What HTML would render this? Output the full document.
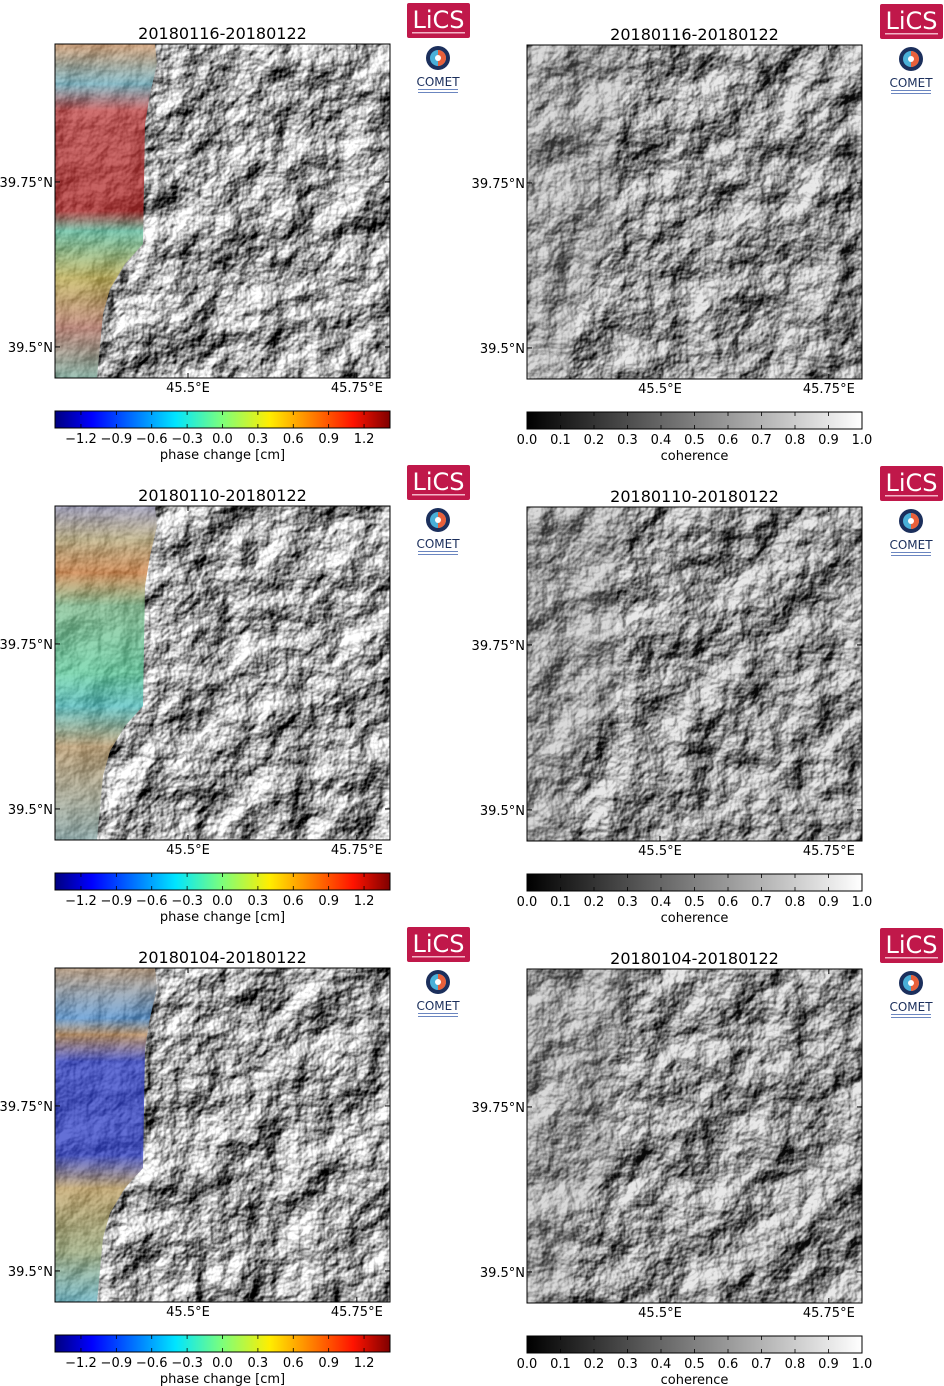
<!DOCTYPE html>
<html><head><meta charset="utf-8">
<style>
html,body{margin:0;padding:0;background:#fff;}
svg{display:block;font-family:"DejaVu Sans","Liberation Sans",sans-serif;}
</style></head>
<body>
<svg id="fig" width="944" height="1386" viewBox="0 0 944 1386" xmlns="http://www.w3.org/2000/svg">
<defs>
<filter id="hill" x="0" y="0" width="100%" height="100%" color-interpolation-filters="sRGB">
<feTurbulence type="fractalNoise" baseFrequency="0.02" numOctaves="5" seed="7" result="n"/>
<feDiffuseLighting in="n" surfaceScale="11" lighting-color="#ffffff" diffuseConstant="1.05" result="l">
<feDistantLight azimuth="225" elevation="38"/>
</feDiffuseLighting>
<feColorMatrix type="saturate" values="0"/>
<feComponentTransfer><feFuncR type="linear" slope="1.12" intercept="-0.06"/><feFuncG type="linear" slope="1.12" intercept="-0.06"/><feFuncB type="linear" slope="1.12" intercept="-0.06"/></feComponentTransfer>
</filter>
<linearGradient id="jet" x1="0" x2="1" y1="0" y2="0">
<stop offset="0" stop-color="#00007f"/><stop offset="0.11" stop-color="#0000ff"/>
<stop offset="0.36" stop-color="#00e5ff"/><stop offset="0.5" stop-color="#7dff7a"/>
<stop offset="0.64" stop-color="#ffee00"/><stop offset="0.89" stop-color="#ff1300"/>
<stop offset="1" stop-color="#7f0000"/>
</linearGradient>
<linearGradient id="gray" x1="0" x2="1" y1="0" y2="0">
<stop offset="0" stop-color="#000"/><stop offset="1" stop-color="#fff"/>
</linearGradient>
<linearGradient id="ov0" x1="0" x2="0" y1="0" y2="1">
<stop offset="0" stop-color="#d9a070"/><stop offset="0.12" stop-color="#70b0c0"/>
<stop offset="0.2" stop-color="#c04040"/><stop offset="0.5" stop-color="#b02828"/>
<stop offset="0.56" stop-color="#60c0a0"/><stop offset="0.7" stop-color="#c0b050"/>
<stop offset="0.85" stop-color="#c08070"/><stop offset="1" stop-color="#80b0a0"/>
</linearGradient>
<linearGradient id="ov1" x1="0" x2="0" y1="0" y2="1">
<stop offset="0" stop-color="#a0a0c0"/><stop offset="0.1" stop-color="#c0b080"/>
<stop offset="0.2" stop-color="#d08040"/><stop offset="0.3" stop-color="#80c090"/>
<stop offset="0.5" stop-color="#60d0a0"/><stop offset="0.6" stop-color="#50c0c0"/>
<stop offset="0.72" stop-color="#c0a070"/><stop offset="1" stop-color="#90b0b0"/>
</linearGradient>
<linearGradient id="ov2" x1="0" x2="0" y1="0" y2="1">
<stop offset="0" stop-color="#c0a080"/><stop offset="0.15" stop-color="#5090d0"/>
<stop offset="0.2" stop-color="#c09060"/><stop offset="0.28" stop-color="#3040c8"/>
<stop offset="0.56" stop-color="#3040c8"/><stop offset="0.66" stop-color="#c0a060"/>
<stop offset="0.85" stop-color="#a0b080"/><stop offset="1" stop-color="#60b0c0"/>
</linearGradient>
</defs>
</svg>
<script>
const titles = ["20180116-20180122","20180110-20180122","20180104-20180122"];
const phaseTicks = [-1.2,-0.9,-0.6,-0.3,0.0,0.3,0.6,0.9,1.2];
const phaseRange = [-1.42,1.42];
const cohTicks = [0.0,0.1,0.2,0.3,0.4,0.5,0.6,0.7,0.8,0.9,1.0];
const cohRange = [0,1];
const latTicks = ["39.75°N","39.5°N"];
const latFrac = [0.413,0.907];
const lonTicks = ["45.5°E","45.75°E"];
const lonFrac = [0.397,0.901];
const overlayPts = [[0,0],[100,0],[102,20],[95,50],[90,80],[88,200],[70,220],[55,245],[48,270],[42,334],[0,334]];

const S = "http://www.w3.org/2000/svg";
const fig = document.getElementById('fig');
function el(tag, attrs, parent){const e=document.createElementNS(S,tag);for(const k in attrs)e.setAttribute(k,attrs[k]);(parent||fig).appendChild(e);return e;}
function txt(x,y,s,size,anchor,parent){const t=el('text',{x:x,y:y,'font-size':size,'text-anchor':anchor||'middle',fill:'#000'},parent);t.textContent=s;return t;}

const W=335,H=334;
for(let r=0;r<3;r++){
  for(let c=0;c<2;c++){
    const mx = c===0?55:527, my = (c===0?44:45)+r*462;
    const g = el('g',{});
    
    
    const t = txt(mx+W/2, my-5, titles[r], 16, 'middle', g);
    
    
    const map = el('g',{},g);
    
    
    el('rect',{x:mx,y:my,width:W,height:H,fill:'#999'},map);
    el('rect',{x:mx,y:my,width:W,height:H,filter:'url(#hill)'},map);
    if(c===1) el('rect',{x:mx,y:my,width:W,height:H,fill:'#444',opacity:0.12},map);
    if(c===0){
      const p = el('polygon',{points:overlayPts.map(q=>(mx+q[0])+','+(my+q[1])).join(' '),fill:'url(#ov'+r+')',opacity:0.75},map);
      
      
    } else {
      el('polygon',{points:overlayPts.map(q=>(mx+q[0])+','+(my+q[1])).join(' '),fill:'#aaa',opacity:0.25},map);
    }
    el('rect',{x:mx,y:my,width:W,height:H,fill:'none',stroke:'#000','stroke-width':1},g);
    latTicks.forEach((s,i)=>{
      const y=my+latFrac[i]*H;
      el('line',{x1:mx,x2:mx+5,y1:y,y2:y,stroke:'#000'},g);
      el('line',{x1:mx+W,x2:mx+W-5,y1:y,y2:y,stroke:'#000'},g);
      const lt=txt(mx-2,y+5,s,13,'end',g);
      
      
    });
    lonTicks.forEach((s,i)=>{
      const x=mx+lonFrac[i]*W;
      el('line',{x1:x,x2:x,y1:my+H,y2:my+H-5,stroke:'#000'},g);
      el('line',{x1:x,x2:x,y1:my,y2:my+5,stroke:'#000'},g);
      const lt=txt(x,my+H+14,s,13,'middle',g);
      
      
    });
    const cy = my+367, ch=17;
    const cb = el('g',{},g);
    
    
    el('rect',{x:mx,y:cy,width:W,height:ch,fill:c===0?'url(#jet)':'url(#gray)',stroke:'#000','stroke-width':1},cb);
    const ticks = c===0?phaseTicks:cohTicks, rng=c===0?phaseRange:cohRange;
    ticks.forEach(v=>{
      const x = mx + (v-rng[0])/(rng[1]-rng[0])*W;
      el('line',{x1:x,x2:x,y1:cy,y2:cy+4,stroke:'#000','stroke-width':0.8},cb);
      el('line',{x1:x,x2:x,y1:cy+ch,y2:cy+ch-4,stroke:'#000','stroke-width':0.8},cb);
      const lab = (v<0?'\u2212':'')+Math.abs(v).toFixed(1);
      const tl=txt(x,cy+ch+15,lab,13,'middle',cb);
      
      
    });
    const cl=txt(mx+W/2,cy+ch+31,c===0?'phase change [cm]':'coherence',13,'middle',cb);
    
    
    const lx = c===0?407:880, ly = r*462+3+(c===1?1:0);
    const lg = el('g',{},g);
    
    
    el('rect',{x:lx,y:ly,width:63,height:35,fill:'#c0184a',rx:2},lg);
    const lt = txt(lx+31.5,ly+25,'LiCS',24,'middle',lg); lt.setAttribute('fill','#fff');
    el('rect',{x:lx+5,y:ly+29,width:53,height:1.5,fill:'#f3b3c6'},lg);
    const cg = el('g',{},g);
    
    
    const cx0 = lx+31, cy0 = ly+55;
    el('circle',{cx:cx0,cy:cy0,r:12,fill:'#1b2f5c'},cg);
    el('circle',{cx:cx0,cy:cy0,r:8,fill:'#4ab0d8'},cg);
    el('path',{d:`M${cx0} ${cy0-8} A8 8 0 0 1 ${cx0} ${cy0+8} Z`,fill:'#e8603a'},cg);
    el('circle',{cx:cx0,cy:cy0,r:3,fill:'#fff'},cg);
    const ct=txt(cx0,ly+83,'COMET',12,'middle',cg); ct.setAttribute('fill','#1b2f5c');
    el('rect',{x:cx0-20,y:ly+86,width:40,height:1,fill:'#6b86c0'},cg);
    el('rect',{x:cx0-20,y:ly+89,width:40,height:1,fill:'#6b86c0'},cg);
  }
}
</script>
</body></html>
